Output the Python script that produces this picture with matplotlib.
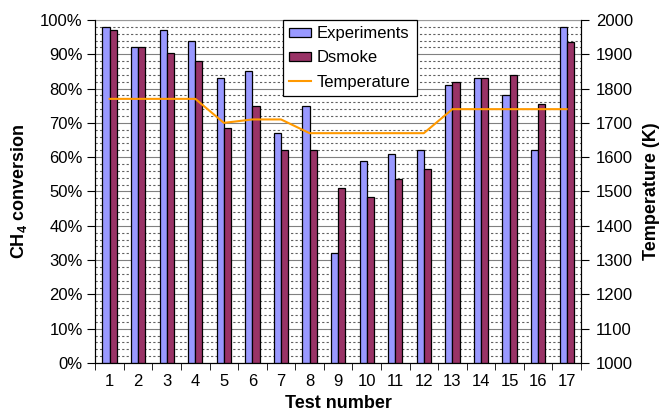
import numpy as np
import matplotlib
matplotlib.use("Agg")
import matplotlib.pyplot as plt
from matplotlib.ticker import FuncFormatter, MultipleLocator, FixedLocator

plt.rcParams['font.family'] = ['Liberation Sans', 'DejaVu Sans']
plt.rcParams['mathtext.fontset'] = 'custom'
plt.rcParams['mathtext.rm'] = 'Liberation Sans'
plt.rcParams['mathtext.bf'] = 'Liberation Sans:bold'

tests = list(range(1, 18))
experiments = [98, 92, 97, 94, 83, 85, 67, 75, 32, 59, 61, 62, 81, 83, 78, 62, 98]
dsmoke = [97, 92, 90.5, 88, 68.5, 75, 62, 62, 51, 48.5, 53.5, 56.5, 82, 83, 84, 75.5, 93.5]
temperature = [1770, 1770, 1770, 1770, 1700, 1710, 1710, 1670, 1670, 1670,
               1670, 1670, 1740, 1740, 1740, 1740, 1740]

x = np.array(tests)
exp_frac = np.array(experiments) / 100.0
ds_frac = np.array(dsmoke) / 100.0

fig = plt.figure(figsize=(6.62, 4.16), dpi=100)
ax = fig.add_axes([0.144, 0.1274, 0.7336, 0.8246])

w = 0.25
ax.bar(x - w / 2, exp_frac, w, color='#9999FF', edgecolor='black', linewidth=0.9,
       label='Experiments', zorder=3)
ax.bar(x + w / 2, ds_frac, w, color='#993366', edgecolor='black', linewidth=0.9,
       label='Dsmoke', zorder=3)

ax.set_xlim(0.5, 17.5)
ax.set_ylim(0, 1)
ax.yaxis.set_major_locator(MultipleLocator(0.1))
ax.yaxis.set_minor_locator(MultipleLocator(0.02))
ax.yaxis.set_major_formatter(FuncFormatter(lambda v, p: '%d%%' % round(v * 100)))
ax.grid(which='major', axis='y', color='#808080', linewidth=0.8, zorder=0)
ax.grid(which='minor', axis='y', color='#606060', linewidth=0.8,
        linestyle=(0, (2, 2)), zorder=0)
ax.set_axisbelow(True)

ax.set_xticks(x)
ax.set_xticklabels([str(t) for t in tests])
ax.xaxis.set_minor_locator(FixedLocator(np.arange(0.5, 18, 1)))
ax.tick_params(axis='x', which='major', length=0, pad=8, labelsize=12)
ax.tick_params(axis='x', which='minor', length=5, direction='out')
ax.tick_params(axis='y', which='major', length=6, direction='out', labelsize=12, pad=3)
ax.tick_params(axis='y', which='minor', length=0)

ax.spines['top'].set_color('#999999')
for s in ['left', 'bottom', 'right']:
    ax.spines[s].set_color('black')

ax.set_xlabel('Test number', fontsize=13, fontweight='bold', labelpad=4)
ax.set_ylabel(r'CH$_\mathbf{4}$ conversion', fontsize=13, fontweight='bold', labelpad=8)

ax2 = ax.twinx()
ax2.plot(x, temperature, color='#FF9900', linewidth=1.5, label='Temperature')
ax2.set_ylim(1000, 2000)
ax2.yaxis.set_major_locator(MultipleLocator(100))
ax2.tick_params(axis='y', length=6, direction='out', labelsize=12, pad=5)
ax2.spines['right'].set_color('black')
ax2.spines['top'].set_visible(False)
ax2.set_ylabel('Temperature (K)', fontsize=13, fontweight='bold', labelpad=7)

h1, l1 = ax.get_legend_handles_labels()
h2, l2 = ax2.get_legend_handles_labels()
leg = ax2.legend(h1 + h2, l1 + l2, loc='upper left', bbox_to_anchor=(0.386, 1.0),
                 fontsize=12, frameon=True, fancybox=False, framealpha=1,
                 edgecolor='black', borderaxespad=0, handlelength=1.3,
                 handleheight=0.46, labelspacing=0.55, handletextpad=0.36,
                 borderpad=0.38)
leg.get_frame().set_linewidth(0.9)
leg.set_zorder(10)

fig.savefig('out.png', dpi=100)
